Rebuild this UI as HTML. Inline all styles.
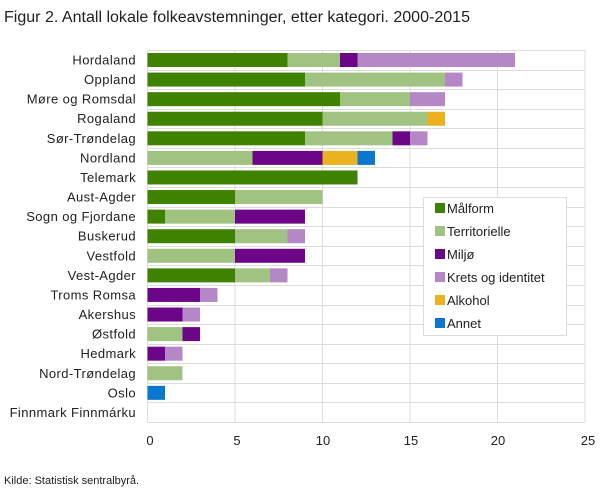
<!DOCTYPE html>
<html><head><meta charset="utf-8"><style>
html,body{margin:0;padding:0;background:#fff;}
svg{display:block;font-family:"Liberation Sans",sans-serif;}
</style></head><body>
<svg width="609" height="489" viewBox="0 0 609 489" xmlns="http://www.w3.org/2000/svg">
<text x="4" y="22" font-size="15.5" fill="#222" textLength="466" lengthAdjust="spacingAndGlyphs">Figur 2. Antall lokale folkeavstemninger, etter kategori. 2000-2015</text>
<g stroke="#dcdcdc" stroke-width="1">
<line x1="147.5" y1="50" x2="147.5" y2="422"/>
<line x1="235" y1="50" x2="235" y2="422"/>
<line x1="322.5" y1="50" x2="322.5" y2="422"/>
<line x1="410" y1="50" x2="410" y2="422"/>
<line x1="497.5" y1="50" x2="497.5" y2="422"/>
<line x1="585" y1="50" x2="585" y2="422"/>
</g>
<g id="hg" stroke="#dcdcdc" stroke-width="1"></g>
<g id="bars"></g>
<g id="labels" font-size="13" fill="#222" text-anchor="end" letter-spacing="0.4"></g>
<g font-size="13" fill="#222" text-anchor="middle">
<text x="150" y="445">0</text><text x="237" y="445">5</text><text x="323" y="445">10</text>
<text x="411" y="445">15</text><text x="498" y="445">20</text><text x="588" y="445">25</text>
</g>
<text x="4" y="484" font-size="11" fill="#222">Kilde: Statistisk sentralbyrå.</text>
<rect x="423.5" y="197.5" width="143" height="138" fill="#fff" stroke="#dcdcdc"/>
<g font-size="13" fill="#222">
<rect x="435" y="203" width="10" height="10" fill="#3f8200"/><text x="447" y="213">Målform</text>
<rect x="435" y="226" width="10" height="10" fill="#a0c382"/><text x="447" y="236">Territorielle</text>
<rect x="435" y="249" width="10" height="10" fill="#6c0587"/><text x="447" y="259">Miljø</text>
<rect x="435" y="272" width="10" height="10" fill="#b587c6"/><text x="447" y="282">Krets og identitet</text>
<rect x="435" y="295" width="10" height="10" fill="#ecb11f"/><text x="447" y="305">Alkohol</text>
<rect x="435" y="318" width="10" height="10" fill="#0b77d1"/><text x="447" y="328">Annet</text>
</g>
<script>
(function(){
var rows=[["Hordaland",[8,3,1,9,0,0]],["Oppland",[9,8,0,1,0,0]],["Møre og Romsdal",[11,4,0,2,0,0]],["Rogaland",[10,6,0,0,1,0]],["Sør-Trøndelag",[9,5,1,1,0,0]],["Nordland",[0,6,4,0,2,1]],["Telemark",[12,0,0,0,0,0]],["Aust-Agder",[5,5,0,0,0,0]],["Sogn og Fjordane",[1,4,4,0,0,0]],["Buskerud",[5,3,0,1,0,0]],["Vestfold",[0,5,4,0,0,0]],["Vest-Agder",[5,2,0,1,0,0]],["Troms Romsa",[0,0,3,1,0,0]],["Akershus",[0,0,2,1,0,0]],["Østfold",[0,2,1,0,0,0]],["Hedmark",[0,0,1,1,0,0]],["Nord-Trøndelag",[0,2,0,0,0,0]],["Oslo",[0,0,0,0,0,1]],["Finnmark Finnmárku",[0,0,0,0,0,0]]];
var cols=["#3f8200","#a0c382","#6c0587","#b587c6","#ecb11f","#0b77d1"];
var ns="http://www.w3.org/2000/svg",x0=147.5,sc=17.5,y0=50,step=372/19;
var b=document.getElementById("bars"),l=document.getElementById("labels"),hg=document.getElementById("hg");
for(var i=0;i<=19;i++){var ln=document.createElementNS(ns,"line");var yy=Math.round(y0+i*step)+0.5;ln.setAttribute("x1",147.5);ln.setAttribute("x2",585);ln.setAttribute("y1",yy);ln.setAttribute("y2",yy);hg.appendChild(ln);}
rows.forEach(function(r,i){var y=y0+i*step;var x=x0;
r[1].forEach(function(v,j){if(!v)return;var rc=document.createElementNS(ns,"rect");rc.setAttribute("x",x);rc.setAttribute("y",y+3);rc.setAttribute("width",v*sc);rc.setAttribute("height",14);rc.setAttribute("fill",cols[j]);b.appendChild(rc);x+=v*sc;});
var t=document.createElementNS(ns,"text");t.setAttribute("x",136);t.setAttribute("y",y+14.5);t.textContent=r[0];l.appendChild(t);});
})();
</script>
</svg>
</body></html>
